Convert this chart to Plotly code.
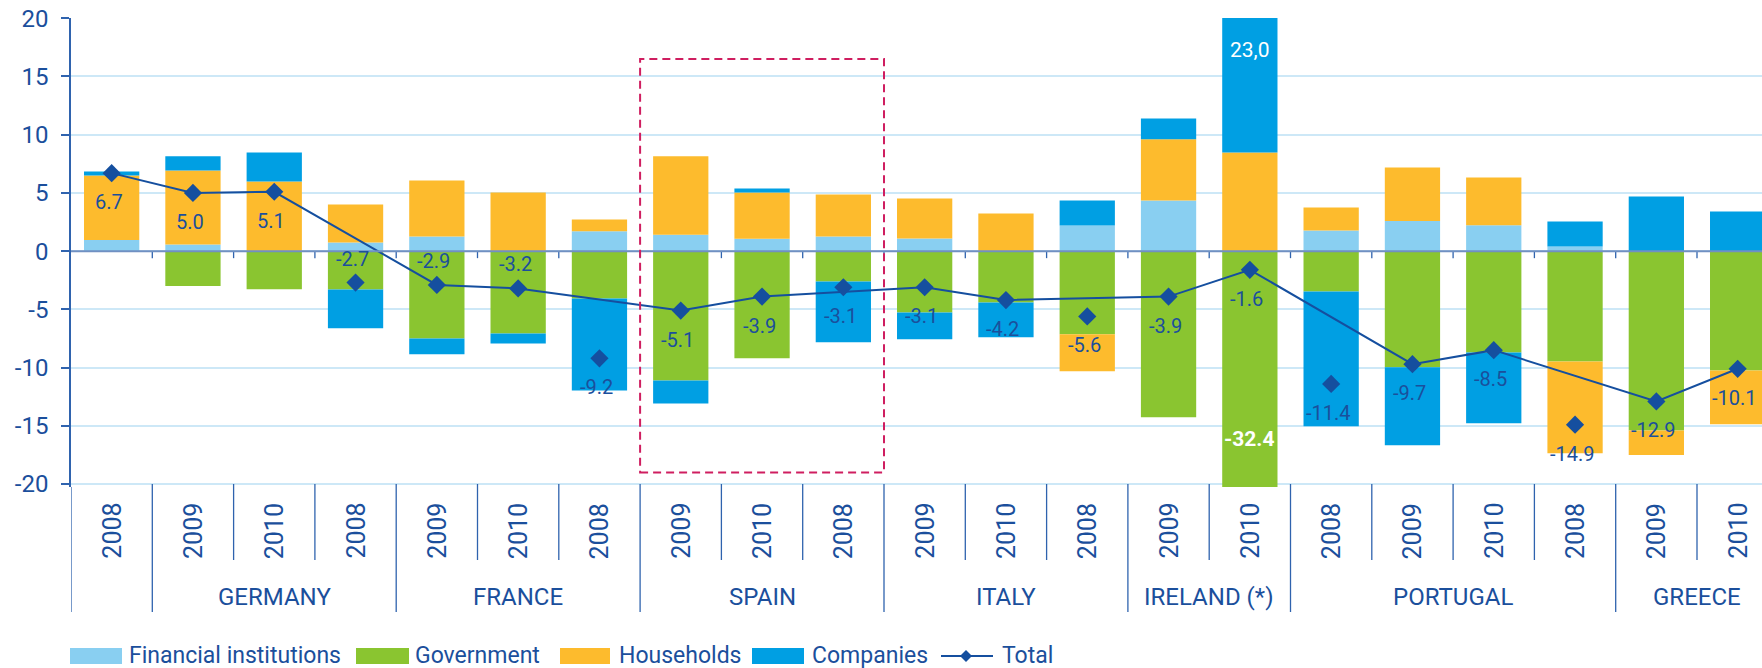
import plotly.graph_objects as go

# ---------------- data ----------------
YEARS = ["2008", "2009", "2010"] * 7
FINANCIAL = [0.95, 0.58, 0.0, 0.75, 1.26, 0.0, 1.72, 1.41, 1.06, 1.26, 1.09,
             0.0, 2.21, 4.36, 0.0, 1.78, 2.58, 2.23, 0.40, 0.0, 0.0]
GOVERNMENT = [0.0, -3.0, -3.26, -3.29, -7.5, -7.07, -4.06, -11.1, -9.19, -2.6, -5.27,
              -4.41, -7.13, -14.26, -32.4, -3.46, -9.96, -8.7, -9.48, -15.4, -10.25]
HOUSEHOLDS = [5.55, 6.35, 5.99, 3.26, 4.81, 5.04, 1.0, 6.73, 3.98, 3.61, 3.44,
              3.24, -3.18, 5.24, 8.48, 1.97, 4.61, 4.1, -7.87, -2.1, -4.61]
COMPANIES = [0.35, 1.23, 2.49, -3.32, -1.35, -0.86, -7.91, -1.98, 0.35, -5.22, -2.29,
             -2.98, 2.15, 1.8, 23.0, -11.57, -6.71, -6.08, 2.15, 4.7, 3.41]
TOTAL = [6.7, 5.0, 5.1, -2.7, -2.9, -3.2, -9.2, -5.1, -3.9, -3.1, -3.1,
         -4.2, -5.6, -3.9, -1.6, -11.4, -9.7, -8.5, -14.9, -12.9, -10.1]
COUNTRIES = ["GERMANY", "FRANCE", "SPAIN", "ITALY", "IRELAND (*)", "PORTUGAL", "GREECE"]
COUNTRY_FIRST = [1, 4, 7, 10, 13, 15, 19]   # first category index of each country group
COUNTRY_LAST = [3, 6, 9, 12, 14, 18, 20]
HIGHLIGHT_FIRST, HIGHLIGHT_LAST = 7, 9      # SPAIN group
SERIES_NAMES = ["Financial institutions", "Government", "Households", "Companies"]
Y_TICKS = [20, 15, 10, 5, 0, -5, -10, -15, -20]

# ---------------- style ----------------
C_FIN = "#89CFF1"
C_GOV = "#8AC530"
C_HH = "#FDBB2D"
C_COMP = "#009FE3"
C_TOTAL = "#154F9F"
C_TEXT = "#1B4F9C"
C_AXIS = "#2F63AE"
C_GRID = "#CDE8F7"
C_BOX = "#CF1E60"
FONT = "Roboto"

W, H = 1762, 668
ML, MT, MB = 71, 18, 181
PW, PH = W - ML, H - MT - MB
STEP = 81.3
XR = [-0.5, -0.5 + PW / STEP]
YR = [-20.25, 20.02]


def ppx(px):
    return (px - ML) / PW


def ppy(py):
    return (H - MB - py) / PH


N = len(YEARS)
X = list(range(N))

fig = go.Figure()
for name, vals, col in zip(SERIES_NAMES, [FINANCIAL, GOVERNMENT, HOUSEHOLDS, COMPANIES],
                           [C_FIN, C_GOV, C_HH, C_COMP]):
    fig.add_trace(go.Bar(x=X, y=vals, name=name, marker=dict(color=col, line=dict(width=0)),
                         showlegend=False))

line_idx = [i for i in X if i == 0 or YEARS[i] != "2008"]
fig.add_trace(go.Scatter(x=line_idx, y=[TOTAL[i] for i in line_idx], mode="lines",
                         line=dict(color=C_TOTAL, width=2), showlegend=False, hoverinfo="skip"))
fig.add_trace(go.Scatter(x=X, y=TOTAL, mode="markers", name="Total",
                         marker=dict(symbol="diamond", size=14, color=C_TOTAL), showlegend=False))

ann = []
shapes = []

# total labels
above = {3, 4, 5}
for i, v in enumerate(TOTAL):
    ann.append(dict(x=i, y=v, xref="x", yref="y", text=f"{v:.1f}", showarrow=False,
                    yshift=24 if i in above else -29, xshift=-3,
                    font=dict(family=FONT, size=20, color=C_TEXT)))

# special labels for Ireland 2010 bar
ir = 14
ann.append(dict(x=ir, y=17.3, xref="x", yref="y", text=f"{COMPANIES[ir]:.1f}".replace(".", ","),
                showarrow=False, font=dict(family=FONT, size=21, color="white")))
ann.append(dict(x=ir, y=-16.1, xref="x", yref="y", text=f"<b>{GOVERNMENT[ir]:.1f}</b>",
                showarrow=False, font=dict(family=FONT, size=21, color="white")))

# year labels
for i, yv in enumerate(YEARS):
    ann.append(dict(x=i, y=ppy(531), xref="x", yref="paper", text=yv, textangle=-90,
                    showarrow=False, xanchor="center", yanchor="middle",
                    font=dict(family=FONT, size=25, color=C_TEXT)))

# country labels
for name, a, b in zip(COUNTRIES, COUNTRY_FIRST, COUNTRY_LAST):
    ann.append(dict(x=(a + b) / 2, y=ppy(597), xref="x", yref="paper", text=name,
                    showarrow=False, xanchor="center", yanchor="middle",
                    font=dict(family=FONT, size=24, color=C_TEXT)))

# separators
for k in range(N + 1):
    xb = k - 0.5
    if xb > XR[1]:
        continue
    long_sep = k == 0 or k in COUNTRY_FIRST
    shapes.append(dict(type="line", xref="x", yref="paper", x0=xb, x1=xb,
                       y0=0 if k == 0 else ppy(484), y1=ppy(612 if long_sep else 560),
                       line=dict(color=C_AXIS, width=1.3)))
    if k > 0:
        shapes.append(dict(type="line", xref="x", yref="y", x0=xb, x1=xb,
                           ysizemode="pixel", yanchor=0, y0=0, y1=-7,
                           line=dict(color=C_AXIS, width=1.3)))

# zero line
shapes.append(dict(type="line", xref="paper", yref="y", x0=0, x1=1, y0=0, y1=0,
                   line=dict(color="#7090C2", width=2)))

# highlight box
shapes.append(dict(type="rect", xref="x", yref="y", x0=HIGHLIGHT_FIRST - 0.5,
                   x1=HIGHLIGHT_LAST + 0.5, y0=-19.0, y1=16.5,
                   line=dict(color=C_BOX, width=2, dash="8px,5px")))

# legend (manual)
leg_y = 655
sw = [(70, 122, 127), (356, 409, 413), (560, 610, 617), (752, 804, 810)]
for (x0, x1, tx), name, col in zip(sw, SERIES_NAMES, [C_FIN, C_GOV, C_HH, C_COMP]):
    shapes.append(dict(type="rect", xref="paper", yref="paper", x0=ppx(x0), x1=ppx(x1),
                       y0=ppy(648), y1=ppy(664), fillcolor=col, line=dict(width=0)))
    ann.append(dict(x=ppx(tx), y=ppy(leg_y), xref="paper", yref="paper", text=name,
                    showarrow=False, xanchor="left", yanchor="middle",
                    font=dict(family=FONT, size=23, color=C_TEXT)))
line_y = 656
shapes.append(dict(type="line", xref="paper", yref="paper", x0=ppx(941), x1=ppx(993),
                   y0=ppy(line_y), y1=ppy(line_y), line=dict(color=C_TOTAL, width=2)))
dc, dr = 966, 6
shapes.append(dict(type="path", xref="paper", yref="paper",
                   path=f"M{ppx(dc)},{ppy(line_y - dr)} L{ppx(dc + dr)},{ppy(line_y)} "
                        f"L{ppx(dc)},{ppy(line_y + dr)} L{ppx(dc - dr)},{ppy(line_y)} Z",
                   fillcolor=C_TOTAL, line=dict(width=0)))
ann.append(dict(x=ppx(1000), y=ppy(leg_y), xref="paper", yref="paper", text="Total",
                showarrow=False, xanchor="left", yanchor="middle",
                font=dict(family=FONT, size=23, color=C_TEXT)))

fig.update_layout(
    width=W, height=H,
    margin=dict(l=ML, r=0, t=MT, b=MB, autoexpand=False),
    barmode="relative", bargap=0.32,
    plot_bgcolor="white", paper_bgcolor="white",
    font=dict(family=FONT, color=C_TEXT),
    xaxis=dict(range=XR, showticklabels=False, showgrid=False, zeroline=False,
               showline=False, ticks=""),
    yaxis=dict(range=YR, tickvals=Y_TICKS, ticktext=[str(v) for v in Y_TICKS],
               showgrid=True, gridcolor=C_GRID, gridwidth=1.5, zeroline=False,
               showline=True, linecolor=C_AXIS, linewidth=1.5,
               ticks="outside", ticklen=8, tickwidth=1.5, tickcolor=C_AXIS,
               ticklabelstandoff=8,
               tickfont=dict(family=FONT, size=24, color=C_TEXT)),
    annotations=ann, shapes=shapes, hovermode=False,
)

fig.write_html("out.html", config={"displayModeBar": False},
               post_script="document.body.style.margin='0';document.body.style.overflow='hidden';")
